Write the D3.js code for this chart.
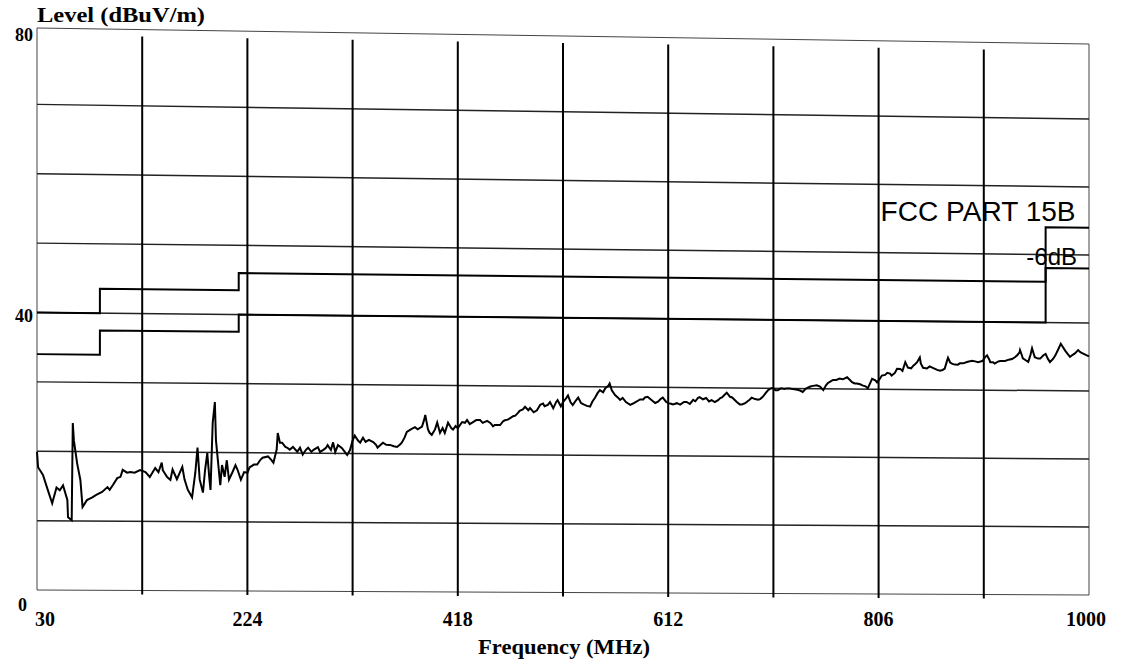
<!DOCTYPE html>
<html>
<head>
<meta charset="utf-8">
<script src="https://cdn.jsdelivr.net/npm/d3@7/dist/d3.min.js"></script>
<style>
  html, body { margin: 0; padding: 0; background: #fff; }
  svg { display: block; }
</style>
</head>
<body>
<svg id="chart" width="1129" height="667"></svg>
<script>
// ---------------- data ----------------
const xTicks = [30, 224, 418, 612, 806, 1000];
const yTicks = [0, 40, 80];
const xGrid = [127, 224, 321, 418, 515, 612, 709, 806, 903];
const yGrid = [10, 20, 30, 40, 50, 60, 70];

// FCC Part 15B limit (step edges in MHz, levels in dBuV/m)
const limitFreq = [30, 88, 216, 960, 1000];
const limitLevel = [40, 43.5, 46, 54];
const limitMinus6 = [34, 37.5, 40, 48];

// measured emission trace [MHz, dBuV/m]
const emission = [
[30,19.9],[31,17.7],[35.5,16.6],[40,14.4],[44,12.5],[48,14.8],[51,14.4],[54,15.1],[58,13.0],[58.6,10.5],[62,10.1],[63,24.1],[64,21.6],[67,18.3],[70,15.9],[72,12.0],[76,13.0],
[81,13.4],[85,13.8],[90,14.2],[95,14.9],[97,14.5],[100,15.2],[104,16.2],[107,16.4],[109,17.4],[113,17.0],[116,17.1],[120,17.0],[125,17.4],
[130,17.1],[134,16.4],[139,17.7],[142,17.1],[145,18.5],[146,17.4],[150,16.4],[153,16.0],
[155,17.5],[159,16.1],[164,17.9],[166,16.1],[169,14.6],[173,13.5],[176,17.1],[178,20.7],[180,16.1],[183,14.2],[185,17.5],[187,19.9],[189,16.1],[190,14.6],[192,24.3],[194,27.3],[195,21.8],[197,18.5],[199,15.3],[200.6,18.2],[203,16.5],[205,18.9],[207,16.1],[210,17.1],[213,18.2],[215,17.5],[218,16.1],[221,17.2],[224,17.1],[226,17.9],
[230,18.3],[233,18.3],[236,19.0],[238,19.3],[243,19.5],[246,19.0],[248,18.6],[251,20.5],[252,22.9],[254,21.5],[256,21.5],[259,20.9],[260.5,20.8],[263,20.5],[266,20.9],[270,20.2],[272.5,20.8],[275,19.8],[278,20.5],
[280,20.8],[283,20.2],[285,20.5],[289,20.9],[291,20.2],[294,20.5],[296.5,20.8],[298,21.2],[301,20.5],[303,21.6],[305,20.2],[307.5,21.2],[311,20.8],[314,20.2],[316,19.8],[318.6,20.5],[321,21.9],[323,22.6],[326,21.9],[328,21.6],
[330.6,22.3],[333,21.7],[336,22.0],[340,21.7],[342.6,21.3],[344,20.9],[349,21.6],[352,21.3],[355.5,21.3],[359,21.1],[362,21.0],[365,21.4],[366.6,21.7],[369,22.4],[371,23.2],[374,23.5],[376,23.7],[378.5,23.9],
[381,23.6],[385,24.0],[387,25.0],[388,25.7],[390.5,23.6],[392,23.1],[394,22.8],[397,23.6],[399,24.6],[401.6,23.1],[404,23.8],[406,23.1],[409,24.6],[412,23.8],[413.6,23.6],[416,24.1],[418,23.8],[422,24.7],[424.6,24.6],[426.5,25.0],[429,24.4],
[432,24.7],[435,25.0],[438.5,25.0],[441,24.6],[445,24.9],[448,24.6],[450.5,24.1],[452,24.3],[457,24.3],[460,24.9],[461.5,25.0],[464,25.1],[466,25.3],[469,25.6],[471,25.7],[473.5,26.1],[475,26.4],[478,26.6],
[480,27.0],[483,26.5],[484.6,26.8],[488,26.2],[491,26.5],[494,27.3],[496.6,27.5],[498,27.1],[501,27.3],[503,27.7],[506,26.8],[508.6,27.7],[510,28.0],[513,27.1],[515,27.7],[518,28.3],[519.6,28.7],[522,27.7],[524,27.3],[527,28.0],[529,28.4],
[531.6,27.6],[534,27.4],[537,27.2],[540,27.1],[542,27.8],[544.5,28.4],[547,29.1],[549,29.5],[552,29.2],[554,29.8],[556.5,30.1],[558,30.5],[560,29.5],[563,28.8],[566,28.4],[567.6,28.1],[570,28.4],[573,27.8],[577,27.4],[579.6,27.6],
[583,27.9],[586,28.2],[589,28.2],[590.6,28.5],[593,28.6],[596,28.2],[600,27.7],[602.6,27.9],[605,28.3],[607,28.5],[610,27.9],[612,27.7],[614.6,27.6],[616.5,27.5],[620,27.7],[623,27.5],[626.6,27.9],[629,27.9],
[632,27.6],[635,28.2],[637,28.0],[639.5,28.5],[641,28.6],[644,28.3],[647,28.5],[649.6,28.0],[652,28.2],[655,27.9],[658,28.2],[660,28.5],[661.6,28.6],[664,29.0],[666,29.3],[669,28.7],[671,28.6],[673.6,28.2],[675.5,27.9],[678,27.6],
[680,27.6],[683,27.8],[684.7,28.0],[687,28.3],[689,28.6],[692,28.4],[695,28.3],[696.7,28.4],[699,28.7],[702,29.3],[704,29.7],[707,30.0],[708.7,30.0],[711,29.7],[713,29.7],[716,30.0],[719,29.9],[721.6,30.0],[724,30.0],[727,29.9],
[731,29.8],[733.6,29.7],[736,29.5],[739,30.0],[743,30.3],[745.5,30.4],[749,30.5],[752,30.3],[755,29.8],[757.5,30.5],[759,30.8],[761,31.0],[764,31.3],[767,31.3],[770,31.5],[773,31.4],[777,31.7],[779.6,31.3],
[781.5,31.0],[784,30.8],[786,30.8],[789,30.7],[791.6,30.5],[794,30.4],[796,30.1],[798,30.8],[800,31.5],[803,31.3],[804.6,31.0],[807,31.5],[809,32.0],[812,32.1],[814,32.4],[816.5,32.3],[818,32.0],[821,32.4],[823,33.0],[826,33.0],[828,32.7],
[830.6,34.0],[833,33.2],[836,33.1],[838,33.5],[839.6,33.7],[841.5,34.0],[844,34.7],[845,33.8],[847,33.2],[850.6,33.1],[853,33.4],[856,33.2],[860,32.9],[862.6,32.8],[865,32.9],[867,33.1],[869,34.2],[870,34.7],[872,34.0],[874,33.8],[876.5,33.7],[879,33.7],
[881,33.9],[884,33.9],[887.5,34.1],[890,34.2],[892,34.3],[895,34.2],[897.7,34.1],[900,34.2],[902,34.3],[904,34.8],[906,35.1],[908,34.5],[909,34.1],[911.5,34.1],[913,33.9],[916,34.2],[918,34.3],[922.6,34.3],[926,34.5],[929,34.6],
[932,34.9],[934,35.2],[936,35.6],[936.4,35.9],[938,35.2],[939,34.7],[942,34.4],[944,34.2],[946,35.2],[947.5,36.2],[949,35.4],[950,34.9],[953,34.7],[955,34.7],[958,35.2],[960,35.4],[962,34.7],[964,34.2],[967,34.7],[969,35.2],[972,36.2],[974,36.9],[975.6,36.5],[978,35.9],
[981,35.3],[982.5,35.0],[985,35.3],[987,35.5],[990,36.0],[992,35.7],[994.6,35.5],[997,35.3],[1000,35.1]
];

// ---------------- chart ----------------
const svg = d3.select("#chart");
const x = d3.scaleLinear().domain([30, 1000]).range([37, 1089]);
// the scanned plot is slightly sheared: the value axis calibration at the left and right edges
const yLeft = d3.scaleLinear().domain([0, 80]).range([590, 35]);
const yRight = d3.scaleLinear().domain([0, 80]).range([595, 51]);
const tPos = d3.scaleLinear().domain([30, 1000]).range([0, 1]);
const Y = (f, v) => d3.interpolateNumber(yLeft(v), yRight(v))(tPos(f));

const serif = "'Liberation Serif','Times New Roman',serif";
const sans = "'Liberation Sans',Arial,sans-serif";
const g = svg.append("g");
const lineXY = d3.line().x(d => x(d[0])).y(d => Y(d[0], d[1]));

// frame
const frameTop = f => Y(f, 80) - 7;
g.append("path")
  .attr("d", d3.line()([
    [x(30), frameTop(30)], [x(1000), frameTop(1000)],
    [x(1000), Y(1000, 0)], [x(30), Y(30, 0)]
  ]) + "Z")
  .attr("fill", "none").attr("stroke", "#444").attr("stroke-width", 1);

// horizontal grid
g.selectAll(".hg").data(yGrid).join("path")
  .attr("d", v => lineXY([[30, v], [1000, v]]))
  .attr("stroke", "#222").attr("stroke-width", 1.5).attr("fill", "none");

// vertical grid
g.selectAll(".vg").data(xGrid).join("line")
  .attr("x1", d => x(d)).attr("x2", d => x(d))
  .attr("y1", d => Y(d, 80)).attr("y2", d => Y(d, 0) + 4)
  .attr("stroke", "#000").attr("stroke-width", 2);

// limit lines (steps)
function stepPoints(levels) {
  const pts = [];
  levels.forEach((v, i) => {
    pts.push([limitFreq[i], v]);
    pts.push([limitFreq[i + 1], v]);
  });
  return pts;
}
[limitLevel, limitMinus6].forEach(lv => {
  g.append("path").datum(stepPoints(lv))
    .attr("d", lineXY)
    .attr("fill", "none").attr("stroke", "#000").attr("stroke-width", 2);
});

// emission trace
g.append("path").datum(emission)
  .attr("d", lineXY)
  .attr("fill", "none").attr("stroke", "#000").attr("stroke-width", 2);

// legend texts
g.append("text").attr("x", x(806) + 2).attr("y", 221)
  .attr("font-family", sans).attr("font-size", 27)
  .attr("textLength", 195).attr("lengthAdjust", "spacingAndGlyphs")
  .text("FCC PART 15B");
g.append("text").attr("x", 1077).attr("y", 265)
  .attr("text-anchor", "end")
  .attr("font-family", sans).attr("font-size", 24)
  .text("-6dB");

// x tick labels
const xAnchor = { 30: "start", 1000: "end" };
const xShift = { 30: -2, 1000: 17 };
g.selectAll(".xl").data(xTicks).join("text")
  .attr("x", d => x(d) + (xShift[d] || 0))
  .attr("y", 626)
  .attr("text-anchor", d => xAnchor[d] || "middle")
  .attr("font-family", serif).attr("font-weight", "bold").attr("font-size", 20)
  .text(d => d);

// y tick labels
const yShift = { 0: 15, 40: 3, 80: 0 };
const yXpos = { 0: 27, 40: 33, 80: 33 };
g.selectAll(".yl").data(yTicks).join("text")
  .attr("x", d => yXpos[d])
  .attr("y", d => yLeft(d) + 6 + yShift[d])
  .attr("text-anchor", "end")
  .attr("font-family", serif).attr("font-weight", "bold").attr("font-size", 18)
  .text(d => d);

// axis titles
g.append("text").attr("x", 37).attr("y", 22)
  .attr("font-family", serif).attr("font-weight", "bold").attr("font-size", 21)
  .attr("textLength", 168).attr("lengthAdjust", "spacingAndGlyphs")
  .text("Level (dBuV/m)");
g.append("text").attr("x", 564).attr("y", 654)
  .attr("text-anchor", "middle")
  .attr("font-family", serif).attr("font-weight", "bold").attr("font-size", 21)
  .attr("textLength", 172).attr("lengthAdjust", "spacingAndGlyphs")
  .text("Frequency (MHz)");
</script>
</body>
</html>
